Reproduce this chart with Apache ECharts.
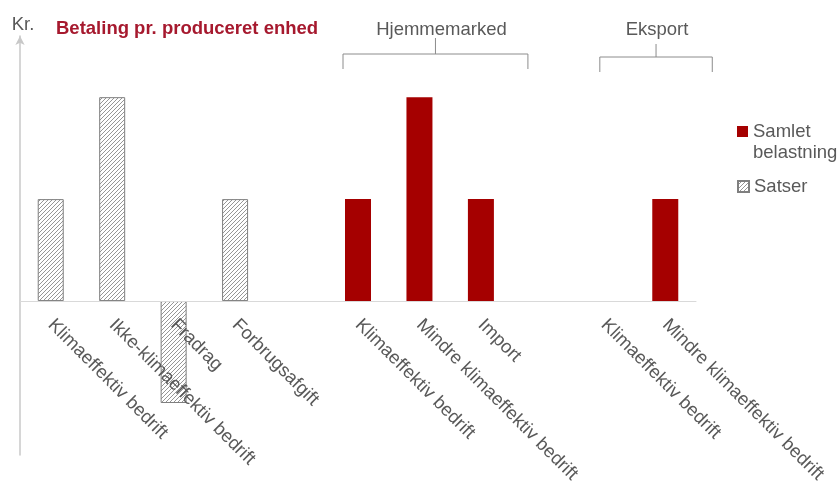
<!DOCTYPE html>
<html>
<head>
<meta charset="utf-8">
<script src="https://cdn.jsdelivr.net/npm/echarts@6/dist/echarts.min.js"></script>
<style>
  html, body { margin: 0; padding: 0; background: #fff; }
  #chart { width: 840px; height: 491px; }
</style>
</head>
<body>
<div id="chart"></div>
<script>
// Categories along the x axis (empty slots separate the groups)
const categories = [
  'Klimaeffektiv bedrift',
  'Ikke-klimaeffektiv bedrift',
  'Fradrag',
  'Forbrugsafgift',
  '',
  'Klimaeffektiv bedrift',
  'Mindre klimaeffektiv bedrift',
  'Import',
  '',
  'Klimaeffektiv bedrift',
  'Mindre klimaeffektiv bedrift'
];

// Rates (hatched bars)
const satser = [1, 2, -1, 1, null, null, null, null, null, null, null];
// Total burden (solid red bars)
const samletBelastning = [null, null, null, null, null, 1, 2, 1, null, 0, 1];

// Group brackets above the chart: [label, first category index, last category index]
const groups = [
  ['Hjemmemarked', 5, 7],
  ['Eksport', 9, 10]
];

const GREY_TEXT = '#595959';
const RED = '#a50000';
const TITLE_RED = '#a6192e';
const FONT = 'Liberation Sans, Arial, sans-serif';
const FS = 18.5;

// Value range of the y axis and grid geometry
const Y_MIN = -1.51;
const Y_MAX = 2.6;
const GRID = { left: 20, right: 144, top: 36, bottom: 36 };
const gridHeight = 491 - GRID.top - GRID.bottom;
// Category labels sit on the zero line, so lift the x axis up to it
const zeroOffset = -((0 - Y_MIN) / (Y_MAX - Y_MIN)) * gridHeight;

// Diagonal hatch tile for the rate bars
function hatchCanvas() {
  const s = 4;
  const c = document.createElement('canvas');
  c.width = s; c.height = s;
  const ctx = c.getContext('2d');
  ctx.fillStyle = '#ffffff';
  ctx.fillRect(0, 0, s, s);
  ctx.strokeStyle = '#8a8a8a';
  ctx.lineWidth = 0.9;
  ctx.beginPath();
  ctx.moveTo(-1, s + 1); ctx.lineTo(s + 1, -1);
  ctx.moveTo(-1, 1); ctx.lineTo(1, -1);
  ctx.moveTo(s - 1, s + 1); ctx.lineTo(s + 1, s - 1);
  ctx.stroke();
  return c;
}
const hatch = { image: hatchCanvas(), repeat: 'repeat' };

const chart = echarts.init(document.getElementById('chart'), null, { renderer: 'canvas' });

const option = {
  animation: false,
  backgroundColor: '#ffffff',
  textStyle: { fontFamily: FONT },
  title: {
    text: 'Betaling pr. produceret enhed',
    left: 51,
    top: 14,
    textStyle: { color: TITLE_RED, fontSize: FS, fontWeight: 'bold', fontFamily: FONT }
  },
  legend: [
    {
      data: ['Samlet belastning'],
      orient: 'vertical',
      left: 737,
      top: 100,
      padding: 0,
      icon: 'rect',
      itemWidth: 11,
      itemHeight: 11,
      // blank first line keeps the marker level with "Samlet"
      formatter: () => ' \nSamlet\nbelastning',
      textStyle: { color: GREY_TEXT, fontSize: FS, fontFamily: FONT, lineHeight: 21 }
    },
    {
      data: ['Satser'],
      orient: 'vertical',
      left: 737,
      top: 177,
      padding: 0,
      icon: 'rect',
      itemWidth: 11,
      itemHeight: 11,
      textStyle: { color: GREY_TEXT, fontSize: FS, fontFamily: FONT }
    }
  ],
  grid: Object.assign({ containLabel: false, outerBoundsMode: 'none' }, GRID),
  xAxis: {
    type: 'category',
    data: categories,
    z: 5,
    offset: zeroOffset,
    axisLine: { onZero: false, lineStyle: { color: '#d9d9d9', width: 1 } },
    axisTick: { show: false },
    axisLabel: {
      interval: 0,
      rotate: -45,
      margin: 21,
      color: GREY_TEXT,
      fontSize: FS,
      fontFamily: FONT
    },
    splitLine: { show: false }
  },
  yAxis: {
    type: 'value',
    min: Y_MIN,
    max: Y_MAX,
    name: 'Kr.',
    nameLocation: 'end',
    nameGap: 2,
    nameTextStyle: { color: GREY_TEXT, fontSize: FS, fontFamily: FONT, align: 'center', padding: [0, 0, 0, 6] },
    axisLine: {
      show: true,
      onZero: false,
      symbol: ['none', 'arrow'],
      symbolSize: [7, 9],
      lineStyle: { color: '#c8c8c8', width: 1.5 }
    },
    axisTick: { show: false },
    axisLabel: { show: false },
    splitLine: { show: false }
  },
  series: [
    {
      name: 'Samlet belastning',
      type: 'bar',
      data: samletBelastning,
      barWidth: 26,
      barGap: '-100%',
      itemStyle: { color: RED }
    },
    {
      name: 'Satser',
      type: 'bar',
      data: satser,
      barWidth: 26,
      barGap: '-100%',
      itemStyle: { color: hatch, borderColor: '#7f7f7f', borderWidth: 1 }
    }
  ]
};

chart.setOption(option);

// Brackets grouping the domestic and export categories
function drawBrackets() {
  const elements = [];
  const lineStyle = { stroke: '#8c8c8c', lineWidth: 1, fill: 'none' };
  const textShift = [6, 1];
  groups.forEach(([label, from, to], gi) => {
    const x0 = chart.convertToPixel({ xAxisIndex: 0 }, from);
    const x1 = chart.convertToPixel({ xAxisIndex: 0 }, to);
    const left = gi === 0 ? x0 - 15 : x0 - 4;
    const right = x1 + 47;
    const mid = (left + right) / 2;
    const yBar = gi === 0 ? 54 : 57;
    const yStem = gi === 0 ? 38 : 44;
    elements.push({
      type: 'polyline',
      shape: { points: [[left, yBar + 15], [left, yBar], [right, yBar], [right, yBar + 15]] },
      style: lineStyle,
      silent: true
    });
    elements.push({
      type: 'line',
      shape: { x1: mid, y1: yStem, x2: mid, y2: yBar },
      style: lineStyle,
      silent: true
    });
    elements.push({
      type: 'text',
      x: mid + textShift[gi],
      y: 30,
      style: { text: label, fill: GREY_TEXT, fontSize: FS, fontFamily: FONT, align: 'center', verticalAlign: 'middle' },
      silent: true
    });
  });
  chart.setOption({ graphic: { elements } });
}
drawBrackets();
</script>
</body>
</html>
